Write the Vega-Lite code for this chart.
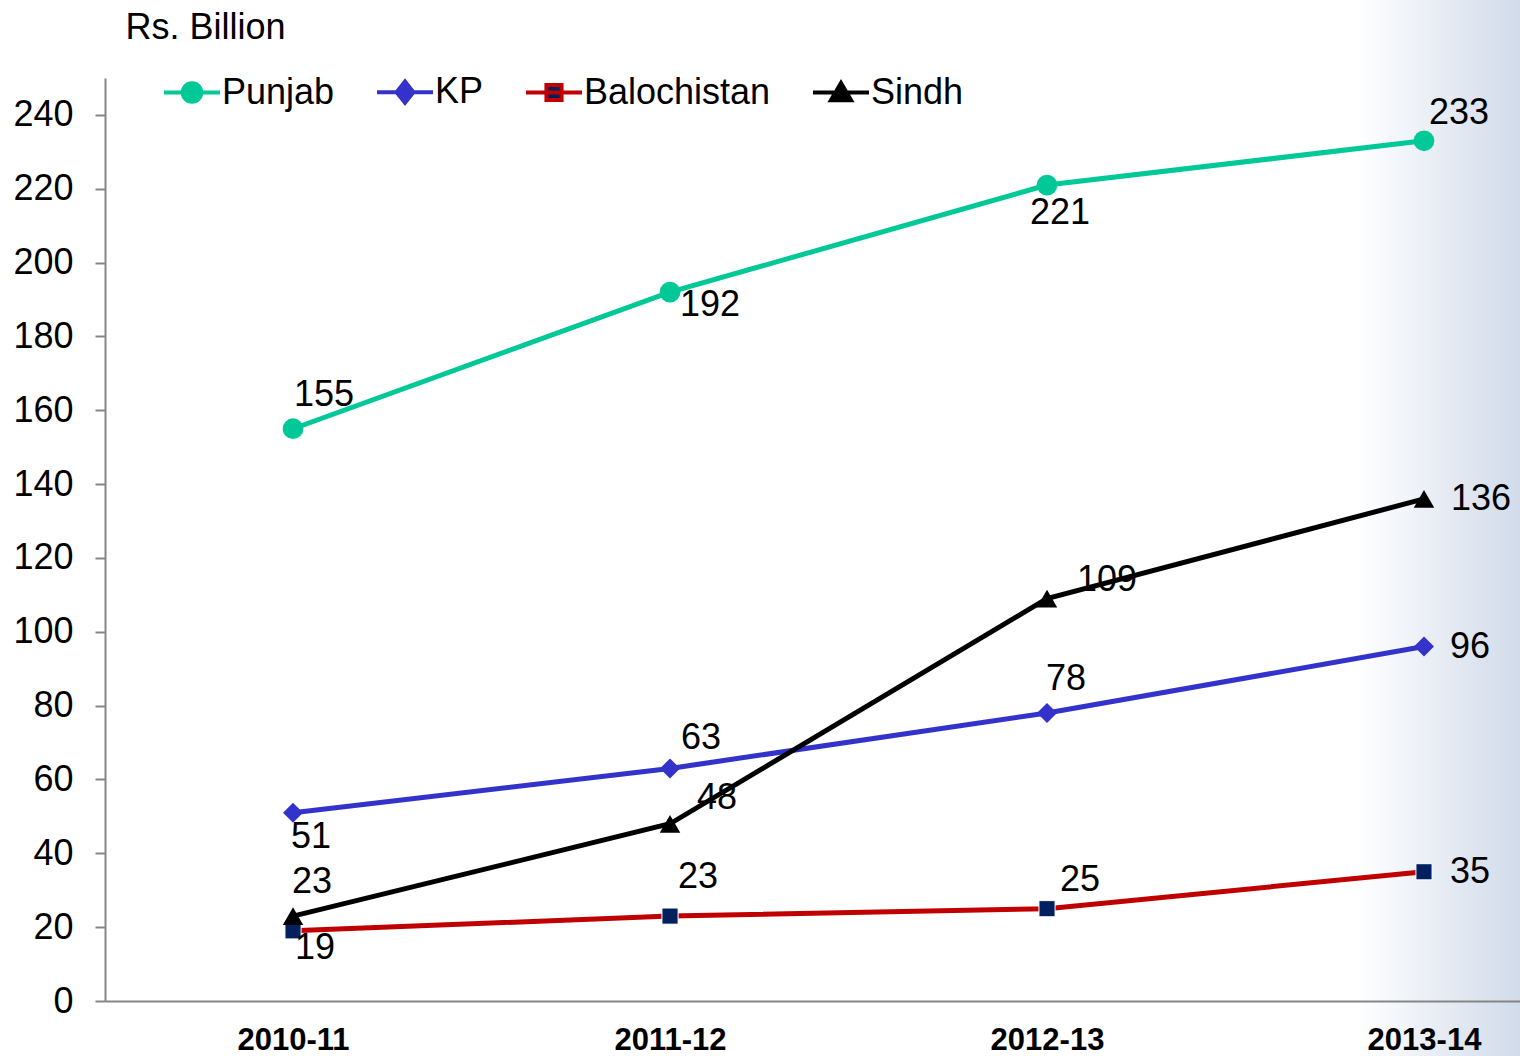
{
  "$schema": "https://vega.github.io/schema/vega-lite/v6.json",
  "width": 1415,
  "height": 923,
  "autosize": {"type": "none"},
  "padding": {"left": 105, "top": 78, "right": 0, "bottom": 55},
  "background": "#ffffff",
  "config": {"font": "Liberation Sans", "view": {"stroke": null}},
  "data": {
    "values": [
      {"region": "Punjab", "year": "2010-11", "value": 155},
      {"region": "Punjab", "year": "2011-12", "value": 192},
      {"region": "Punjab", "year": "2012-13", "value": 221},
      {"region": "Punjab", "year": "2013-14", "value": 233},
      {"region": "KP", "year": "2010-11", "value": 51},
      {"region": "KP", "year": "2011-12", "value": 63},
      {"region": "KP", "year": "2012-13", "value": 78},
      {"region": "KP", "year": "2013-14", "value": 96},
      {"region": "Balochistan", "year": "2010-11", "value": 19},
      {"region": "Balochistan", "year": "2011-12", "value": 23},
      {"region": "Balochistan", "year": "2012-13", "value": 25},
      {"region": "Balochistan", "year": "2013-14", "value": 35},
      {"region": "Sindh", "year": "2010-11", "value": 23},
      {"region": "Sindh", "year": "2011-12", "value": 48},
      {"region": "Sindh", "year": "2012-13", "value": 109},
      {"region": "Sindh", "year": "2013-14", "value": 136}
    ]
  },
  "layer": [
    {
      "data": {"values": [{}]},
      "mark": {
        "type": "rect",
        "clip": false,
        "fill": {
          "gradient": "linear",
          "x1": 0, "y1": 0, "x2": 1, "y2": 0,
          "stops": [
            {"offset": 0, "color": "#ffffff"},
            {"offset": 0.885, "color": "#ffffff"},
            {"offset": 1, "color": "#d1dbea"}
          ]
        }
      },
      "encoding": {
        "y": {
          "datum": 276,
          "type": "quantitative",
          "scale": {"domain": [0, 250], "nice": false},
          "axis": {
            "values": [0, 20, 40, 60, 80, 100, 120, 140, 160, 180, 200, 220, 240],
            "title": "Rs. Billion",
            "titleAngle": 0,
            "titleAlign": "left",
            "titleBaseline": "alphabetic",
            "titleX": 20,
            "titleY": -40,
            "titleFontSize": 36,
            "titleFontWeight": "normal",
            "titleFont": "Liberation Sans",
            "titleColor": "#000000",
            "labelFontSize": 36,
            "labelFont": "Liberation Sans",
            "labelColor": "#000000",
            "labelPadding": 22,
            "tickSize": 10,
            "tickWidth": 2,
            "tickColor": "#868686",
            "domainColor": "#868686",
            "domainWidth": 2,
            "grid": false,
            "zindex": 1
          }
        },
        "y2": {"datum": -15}
      }
    },
    {
      "encoding": {
        "x": {
          "field": "year",
          "type": "ordinal",
          "scale": {"type": "point", "padding": 0.3767, "align": 0.662},
          "axis": {
            "title": null,
            "labelAngle": 0,
            "labelFontSize": 31,
            "labelFontWeight": "bold",
            "labelColor": "#000000",
            "labelFont": "Liberation Sans",
            "ticks": false,
            "tickSize": 0,
            "labelPadding": 24,
            "domainColor": "#868686",
            "domainWidth": 2,
            "grid": false,
            "zindex": 1
          }
        },
        "y": {
          "field": "value",
          "type": "quantitative",
          "scale": {"domain": [0, 250], "nice": false},
          "axis": {
            "values": [0, 20, 40, 60, 80, 100, 120, 140, 160, 180, 200, 220, 240],
            "title": "Rs. Billion",
            "titleAngle": 0,
            "titleAlign": "left",
            "titleBaseline": "alphabetic",
            "titleX": 20,
            "titleY": -40,
            "titleFontSize": 36,
            "titleFontWeight": "normal",
            "titleFont": "Liberation Sans",
            "titleColor": "#000000",
            "labelFontSize": 36,
            "labelFont": "Liberation Sans",
            "labelColor": "#000000",
            "labelPadding": 22,
            "tickSize": 10,
            "tickWidth": 2,
            "tickColor": "#868686",
            "domainColor": "#868686",
            "domainWidth": 2,
            "grid": false,
            "zindex": 1
          }
        }
      },
      "layer": [
        {
          "mark": {"type": "line", "strokeWidth": 5},
          "encoding": {
            "color": {
              "field": "region",
              "type": "nominal",
              "scale": {
                "domain": ["Punjab", "KP", "Balochistan", "Sindh"],
                "range": ["#00C896", "#3333CC", "#C00000", "#000000"]
              },
              "legend": {
                "orient": "none",
                "legendX": 57,
                "legendY": -16,
                "direction": "horizontal",
                "title": null,
                "labelFontSize": 36,
                "labelFont": "Liberation Sans",
                "labelColor": "#000000",
                "labelLimit": 0,
                "symbolSize": 3136,
                "labelOffset": 0,
                "columnPadding": 34,
                "padding": 0,
                "symbolStrokeWidth": 4,
                "encode": {
                  "symbols": {
                    "update": {
                      "shape": {"signal": "datum.value === 'Punjab' ? 'M-1,0H1M0.33,0A0.33,0.33,0,1,1,-0.33,0A0.33,0.33,0,1,1,0.33,0Z' : datum.value === 'KP' ? 'M-1,0H1M0,-0.38L0.3,0L0,0.38L-0.3,0Z' : datum.value === 'Balochistan' ? 'M-1,0H1M-0.27,-0.27H0.27V0.27H-0.27Z' : 'M-1,0H1M0,-0.34L0.36,0.28H-0.36Z'"},
                      "fill": {"signal": "datum.value === 'Punjab' ? '#00C896' : datum.value === 'KP' ? '#3333CC' : datum.value === 'Balochistan' ? '#002060' : '#000000'"},
                      "stroke": {"signal": "datum.value === 'Punjab' ? '#00C896' : datum.value === 'KP' ? '#3333CC' : datum.value === 'Balochistan' ? '#C00000' : '#000000'"},
                      "strokeWidth": {"value": 4},
                      "opacity": {"value": 1}
                    }
                  }
                }
              }
            }
          }
        },
        {"transform": [{"filter": "datum.region === 'Punjab'"}], "mark": {"type": "point", "shape": "circle", "filled": true, "opacity": 1, "size": 430, "fill": "#00C896"}},
        {"transform": [{"filter": "datum.region === 'KP'"}], "mark": {"type": "point", "shape": "diamond", "filled": true, "opacity": 1, "size": 400, "fill": "#3333CC"}},
        {"transform": [{"filter": "datum.region === 'Balochistan'"}], "mark": {"type": "point", "shape": "square", "filled": true, "opacity": 1, "size": 260, "fill": "#002060", "stroke": "#ffffff", "strokeWidth": 1}},
        {"transform": [{"filter": "datum.region === 'Sindh'"}], "mark": {"type": "point", "shape": "triangle-up", "filled": true, "opacity": 1, "size": 420, "fill": "#000000"}},
        {"transform": [{"filter": "datum.region === 'Punjab' && datum.year === '2010-11'"}], "mark": {"type": "text", "fontSize": 36, "font": "Liberation Sans", "color": "#000000", "align": "center", "baseline": "middle", "dx": 31, "dy": -34}, "encoding": {"text": {"field": "value", "type": "quantitative"}}},
        {"transform": [{"filter": "datum.region === 'Punjab' && datum.year === '2011-12'"}], "mark": {"type": "text", "fontSize": 36, "font": "Liberation Sans", "color": "#000000", "align": "center", "baseline": "middle", "dx": 40, "dy": 13}, "encoding": {"text": {"field": "value", "type": "quantitative"}}},
        {"transform": [{"filter": "datum.region === 'Punjab' && datum.year === '2012-13'"}], "mark": {"type": "text", "fontSize": 36, "font": "Liberation Sans", "color": "#000000", "align": "center", "baseline": "middle", "dx": 13, "dy": 28}, "encoding": {"text": {"field": "value", "type": "quantitative"}}},
        {"transform": [{"filter": "datum.region === 'Punjab' && datum.year === '2013-14'"}], "mark": {"type": "text", "fontSize": 36, "font": "Liberation Sans", "color": "#000000", "align": "center", "baseline": "middle", "dx": 35, "dy": -28}, "encoding": {"text": {"field": "value", "type": "quantitative"}}},
        {"transform": [{"filter": "(datum.region === 'Sindh' && datum.year === '2010-11') || (datum.region === 'KP' && datum.year === '2012-13')"}], "mark": {"type": "text", "fontSize": 36, "font": "Liberation Sans", "color": "#000000", "align": "center", "baseline": "middle", "dx": 19, "dy": -34}, "encoding": {"text": {"field": "value", "type": "quantitative"}}},
        {"transform": [{"filter": "datum.region === 'Sindh' && datum.year === '2011-12'"}], "mark": {"type": "text", "fontSize": 36, "font": "Liberation Sans", "color": "#000000", "align": "center", "baseline": "middle", "dx": 47, "dy": -26}, "encoding": {"text": {"field": "value", "type": "quantitative"}}},
        {"transform": [{"filter": "datum.region === 'Sindh' && datum.year === '2012-13'"}], "mark": {"type": "text", "fontSize": 36, "font": "Liberation Sans", "color": "#000000", "align": "center", "baseline": "middle", "dx": 60, "dy": -19}, "encoding": {"text": {"field": "value", "type": "quantitative"}}},
        {"transform": [{"filter": "datum.region === 'Sindh' && datum.year === '2013-14'"}], "mark": {"type": "text", "fontSize": 36, "font": "Liberation Sans", "color": "#000000", "align": "center", "baseline": "middle", "dx": 57, "dy": 0}, "encoding": {"text": {"field": "value", "type": "quantitative"}}},
        {"transform": [{"filter": "datum.region === 'KP' && datum.year === '2010-11'"}], "mark": {"type": "text", "fontSize": 36, "font": "Liberation Sans", "color": "#000000", "align": "center", "baseline": "middle", "dx": 18, "dy": 24}, "encoding": {"text": {"field": "value", "type": "quantitative"}}},
        {"transform": [{"filter": "datum.region === 'KP' && datum.year === '2011-12'"}], "mark": {"type": "text", "fontSize": 36, "font": "Liberation Sans", "color": "#000000", "align": "center", "baseline": "middle", "dx": 31, "dy": -30}, "encoding": {"text": {"field": "value", "type": "quantitative"}}},
        {"transform": [{"filter": "(datum.region === 'KP' || datum.region === 'Balochistan') && datum.year === '2013-14'"}], "mark": {"type": "text", "fontSize": 36, "font": "Liberation Sans", "color": "#000000", "align": "center", "baseline": "middle", "dx": 46, "dy": 0}, "encoding": {"text": {"field": "value", "type": "quantitative"}}},
        {"transform": [{"filter": "datum.region === 'Balochistan' && datum.year === '2010-11'"}], "mark": {"type": "text", "fontSize": 36, "font": "Liberation Sans", "color": "#000000", "align": "center", "baseline": "middle", "dx": 22, "dy": 17}, "encoding": {"text": {"field": "value", "type": "quantitative"}}},
        {"transform": [{"filter": "datum.region === 'Balochistan' && datum.year === '2011-12'"}], "mark": {"type": "text", "fontSize": 36, "font": "Liberation Sans", "color": "#000000", "align": "center", "baseline": "middle", "dx": 28, "dy": -39}, "encoding": {"text": {"field": "value", "type": "quantitative"}}},
        {"transform": [{"filter": "datum.region === 'Balochistan' && datum.year === '2012-13'"}], "mark": {"type": "text", "fontSize": 36, "font": "Liberation Sans", "color": "#000000", "align": "center", "baseline": "middle", "dx": 33, "dy": -29}, "encoding": {"text": {"field": "value", "type": "quantitative"}}}
      ]
    }
  ]
}
